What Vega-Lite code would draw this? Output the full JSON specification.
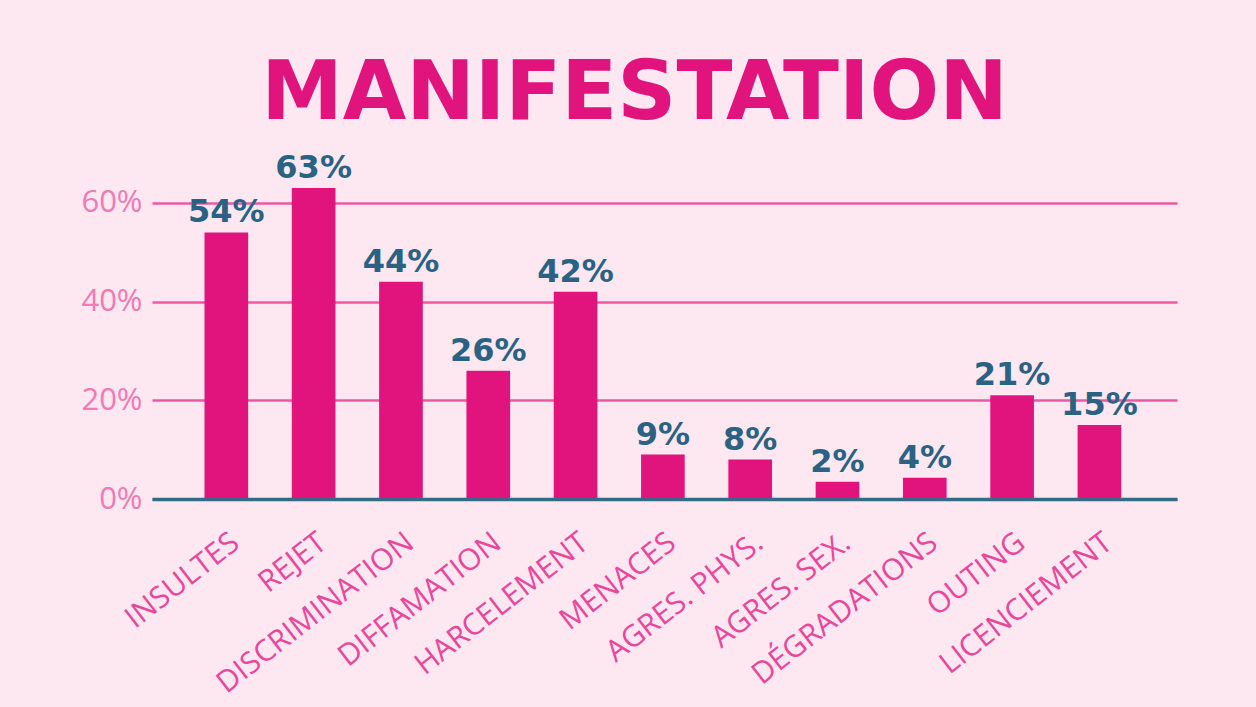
{
  "$schema": "https://vega.github.io/schema/vega-lite/v6.json",
  "width": 1025,
  "height": 316,
  "autosize": {"type": "none"},
  "padding": {"left": 152, "top": 183, "right": 79, "bottom": 208},
  "background": "#fde7f1",
  "title": {
    "text": "MANIFESTATION",
    "font": "DejaVu Sans",
    "fontWeight": "bold",
    "fontSize": 82,
    "color": "#e0147c",
    "anchor": "middle",
    "frame": "group",
    "baseline": "alphabetic",
    "offset": -49,
    "dx": -30
  },
  "data": {
    "values": [
      {"cat": "INSULTES", "value": 54, "label": "54%"},
      {"cat": "REJET", "value": 63, "label": "63%"},
      {"cat": "DISCRIMINATION", "value": 44, "label": "44%"},
      {"cat": "DIFFAMATION", "value": 26, "label": "26%"},
      {"cat": "HARCELEMENT", "value": 42, "label": "42%"},
      {"cat": "MENACES", "value": 9, "label": "9%"},
      {"cat": "AGRES. PHYS.", "value": 8, "label": "8%"},
      {"cat": "AGRES. SEX.", "value": 3.5, "label": "2%"},
      {"cat": "DÉGRADATIONS", "value": 4.3, "label": "4%"},
      {"cat": "OUTING", "value": 21, "label": "21%"},
      {"cat": "LICENCIEMENT", "value": 15, "label": "15%"}
    ]
  },
  "encoding": {
    "x": {
      "field": "cat",
      "type": "nominal",
      "sort": null,
      "scale": {"paddingInner": 0.5, "paddingOuter": 0.62, "align": 0.485},
      "axis": {
        "title": null,
        "grid": false,
        "ticks": false,
        "domainColor": "#34698a",
        "domainWidth": 3.5,
        "labelAngle": -38,
        "labelAlign": "right",
        "labelBaseline": "top",
        "labelOffset": 0,
        "labelPadding": 28,
        "labelLimit": 0,
        "labelFont": "Open Sans",
        "labelFontSize": 30,
        "labelColor": "#e9479b",
        "zindex": 1
      }
    },
    "y": {
      "field": "value",
      "type": "quantitative",
      "scale": {"domain": [0, 64], "nice": false},
      "axis": {
        "title": null,
        "values": [0, 20, 40, 60],
        "labelExpr": "datum.value + '%'",
        "domain": false,
        "ticks": false,
        "grid": true,
        "gridColor": "#eb5aa0",
        "gridWidth": 2.5,
        "labelFont": "Open Sans",
        "labelFontSize": 31,
        "labelColor": "#f07ab4",
        "labelPadding": 10,
        "labelBaseline": "middle",
        "zindex": 0
      }
    }
  },
  "layer": [
    {"mark": {"type": "bar", "color": "#e0147c"}},
    {
      "mark": {
        "type": "text",
        "font": "DejaVu Sans",
        "fontWeight": "bold",
        "fontSize": 32,
        "color": "#2a6283",
        "baseline": "alphabetic",
        "dy": -10
      },
      "encoding": {"text": {"field": "label"}}
    }
  ],
  "config": {"view": {"stroke": null}}
}
